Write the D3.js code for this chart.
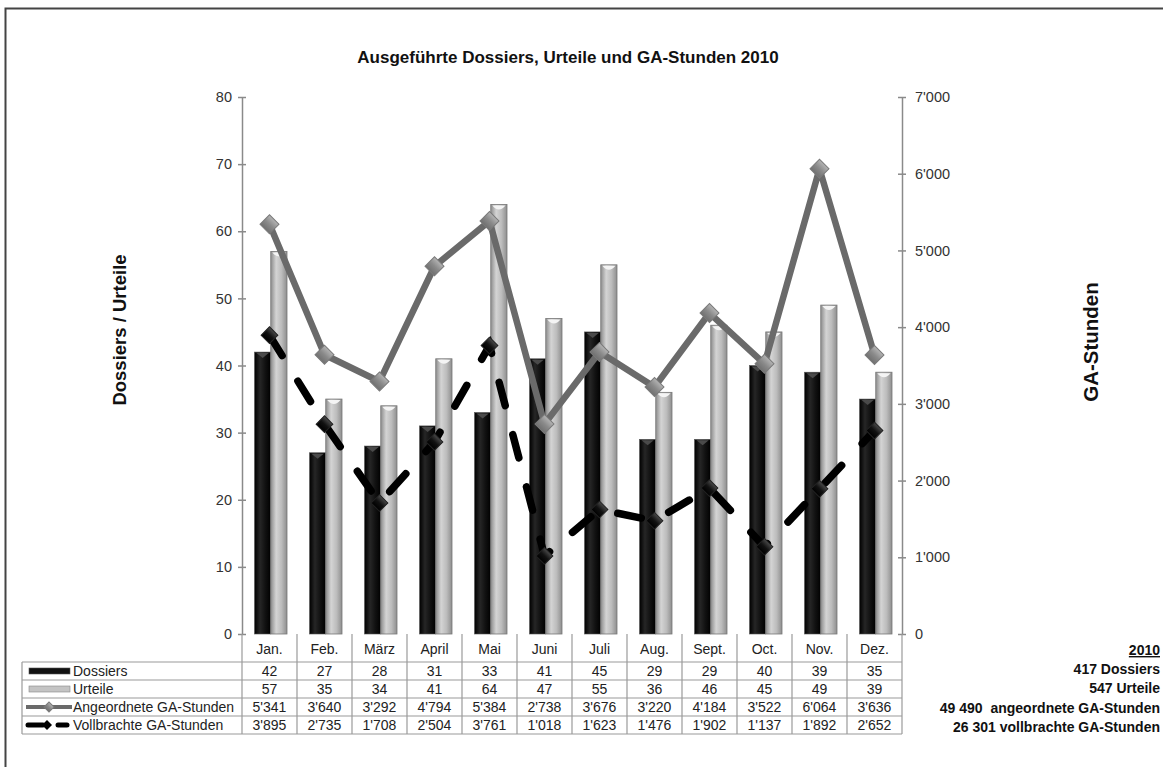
<!DOCTYPE html>
<html>
<head>
<meta charset="utf-8">
<script src="https://cdn.jsdelivr.net/npm/d3@7"></script>
<style>
  body { margin: 0; background: #fff; }
  svg { display: block; font-family: "Liberation Sans", Arial, sans-serif; }
</style>
</head>
<body>
<svg id="chart" width="1163" height="767"></svg>
<script>
const months = ['Jan.', 'Feb.', 'März', 'April', 'Mai', 'Juni', 'Juli', 'Aug.', 'Sept.', 'Oct.', 'Nov.', 'Dez.']
const dossiers = [42, 27, 28, 31, 33, 41, 45, 29, 29, 40, 39, 35]
const urteile = [57, 35, 34, 41, 64, 47, 55, 36, 46, 45, 49, 39]
const angeordnete = [5341, 3640, 3292, 4794, 5384, 2738, 3676, 3220, 4184, 3522, 6064, 3636]
const vollbrachte = [3895, 2735, 1708, 2504, 3761, 1018, 1623, 1476, 1902, 1137, 1892, 2652]
const leftTicks = [0, 10, 20, 30, 40, 50, 60, 70, 80]
const rightTicks = [0, 1000, 2000, 3000, 4000, 5000, 6000, 7000]
const summary = ['2010', '417 Dossiers', '547 Urteile', '49 490  angeordnete GA-Stunden', '26 301 vollbrachte GA-Stunden']

const svg = d3.select('#chart')
const plotLeft = 242, plotRight = 902, plotTop = 97, zero = 634
const tableLeft = 22, headerH = 28, rowH = 18

const fmt = d3.formatLocale({decimal: '.', thousands: "'", grouping: [3], currency: ['', '']}).format(',')

const x = d3.scaleBand().domain(months).range([plotLeft, plotRight])
const xs = d3.scaleBand().domain(['d', 'u']).range([12.5, 45])
const yL = d3.scaleLinear().domain([0, 80]).range([zero, plotTop])
const yR = d3.scaleLinear().domain([0, 7000]).range([zero, plotTop])

// frame round the whole picture
svg.append('rect').attr('x', 5.5).attr('y', 8.5).attr('width', 1200).attr('height', 800)
  .attr('fill', 'none').attr('stroke', '#444').attr('stroke-width', 2)

// gradients for the 3d look
const defs = svg.append('defs')
const grad = (id, stops, dir) => {
  let g = defs.append('linearGradient').attr('id', id)
  if(dir==='v') g.attr('x1', 0).attr('x2', 0).attr('y1', 0).attr('y2', 1)
  stops.forEach((c, i) => g.append('stop').attr('offset', i/(stops.length-1)).attr('stop-color', c))
}
grad('gDoss', ['#000', '#262626', '#111', '#000'])
grad('gUrt', ['#8c8c8c', '#d4d4d4', '#bcbcbc', '#8e8e8e'])
grad('gGray', ['#b4b4b4', '#8a8a8a', '#707070'], 'v')
grad('gBlack', ['#4a4a4a', '#111', '#000'], 'v')

svg.append('text').attr('x', 568).attr('y', 63).attr('text-anchor', 'middle')
  .attr('font-size', 17).attr('font-weight', 'bold').attr('fill', '#111')
  .text('Ausgeführte Dossiers, Urteile und GA-Stunden 2010')

// axes
const axisL = svg.append('g').attr('transform', `translate(${plotLeft},0)`)
  .call(d3.axisLeft(yL).tickValues(leftTicks).tickSizeInner(4).tickSizeOuter(0).tickPadding(6))
axisL.selectAll('.tick line').attr('x1', 4)
const axisR = svg.append('g').attr('transform', `translate(${plotRight},0)`)
  .call(d3.axisRight(yR).tickValues(rightTicks).tickFormat(fmt).tickSizeInner(4).tickSizeOuter(0).tickPadding(9))
axisR.selectAll('.tick line').attr('x1', -4)
svg.selectAll('.domain, .tick line').attr('stroke', '#8a8a8a').attr('stroke-width', 1.5)
svg.selectAll('.tick text').attr('font-size', 14.5).attr('fill', '#333')
  .attr('font-family', '"Liberation Sans", Arial, sans-serif')

svg.append('text').attr('transform', 'translate(126,330) rotate(-90)').attr('text-anchor', 'middle')
  .attr('font-size', 18.5).attr('font-weight', 'bold').attr('fill', '#111').text('Dossiers / Urteile')
svg.append('text').attr('transform', 'translate(1098,342) rotate(-90)').attr('text-anchor', 'middle')
  .attr('font-size', 20.5).attr('font-weight', 'bold').attr('fill', '#111').text('GA-Stunden')

// bars
const bars = svg.append('g')
months.forEach((m, i) => {
  let xd = x(m) + xs('d'), xu = x(m) + xs('u'), w = xs.bandwidth()
  bars.append('rect').attr('x', xd).attr('y', yL(dossiers[i])).attr('width', w)
    .attr('height', zero - yL(dossiers[i])).attr('fill', 'url(#gDoss)').attr('stroke', '#555').attr('stroke-width', 0.6)
  bars.append('path').attr('d', `M${xd+2},${yL(dossiers[i])+1} L${xd+w-2},${yL(dossiers[i])+1} L${xd+w/2},${yL(dossiers[i])+6} Z`)
    .attr('fill', '#4a4a4a')
  bars.append('rect').attr('x', xu).attr('y', yL(urteile[i])).attr('width', w)
    .attr('height', zero - yL(urteile[i])).attr('fill', 'url(#gUrt)').attr('stroke', '#777').attr('stroke-width', 0.8)
  bars.append('path').attr('d', `M${xu+1.5},${yL(urteile[i])+1} L${xu+w-1.5},${yL(urteile[i])+1} Q${xu+w/2},${yL(urteile[i])+9} ${xu+1.5},${yL(urteile[i])+1} Z`)
    .attr('fill', '#f4f4f4')
})

// lines
const cx = m => x(m) + x.bandwidth()/2
const line = d3.line().x((d, i) => cx(months[i])).y(d => yR(d))
svg.append('path').datum(angeordnete).attr('d', line).attr('fill', 'none')
  .attr('stroke', '#6a6a6a').attr('stroke-width', 6.5).attr('stroke-linejoin', 'round')
svg.append('path').datum(vollbrachte).attr('d', line).attr('fill', 'none')
  .attr('stroke', '#000').attr('stroke-width', 7.5).attr('stroke-linecap', 'round')
  .attr('stroke-dasharray', '24,30')

const diamond = s => d3.symbol(d3.symbolSquare, s)()
svg.append('g').selectAll('path').data(angeordnete).join('path')
  .attr('d', diamond(180))
  .attr('transform', (d, i) => `translate(${cx(months[i])},${yR(d)}) rotate(45)`)
  .attr('fill', 'url(#gGray)').attr('stroke', '#7a7a7a').attr('stroke-width', 1)
svg.append('g').selectAll('path').data(vollbrachte).join('path')
  .attr('d', diamond(140))
  .attr('transform', (d, i) => `translate(${cx(months[i])},${yR(d)}) rotate(45)`)
  .attr('fill', 'url(#gBlack)').attr('stroke', '#222').attr('stroke-width', 1)

// data table
const rows = [
  {name: 'Dossiers', values: dossiers},
  {name: 'Urteile', values: urteile},
  {name: 'Angeordnete GA-Stunden', values: angeordnete},
  {name: 'Vollbrachte GA-Stunden', values: vollbrachte}
]
const table = svg.append('g').attr('stroke', '#9a9a9a').attr('stroke-width', 1.2)
const rowTop = zero + headerH
const tableBottom = rowTop + rows.length*rowH
months.concat(['end']).forEach((m, i) => {
  let xx = i < months.length ? x(m) : plotRight
  table.append('line').attr('x1', xx).attr('x2', xx).attr('y1', zero).attr('y2', tableBottom)
})
table.append('line').attr('x1', tableLeft).attr('x2', tableLeft).attr('y1', rowTop).attr('y2', tableBottom)
d3.range(rows.length + 1).forEach(r => {
  table.append('line').attr('x1', tableLeft).attr('x2', plotRight)
    .attr('y1', rowTop + r*rowH).attr('y2', rowTop + r*rowH)
})

svg.append('g').selectAll('text').data(months).join('text')
  .attr('x', d => cx(d)).attr('y', zero + 20).attr('text-anchor', 'middle')
  .attr('font-size', 14).attr('fill', '#222').text(d => d)

rows.forEach((row, r) => {
  let yy = rowTop + r*rowH + 14
  svg.append('g').selectAll('text').data(row.values).join('text')
    .attr('x', (d, i) => cx(months[i])).attr('y', yy).attr('text-anchor', 'middle')
    .attr('font-size', 14).attr('fill', '#222').text(d => fmt(d))
  svg.append('text').attr('x', 73).attr('y', yy).attr('font-size', 14).attr('fill', '#222').text(row.name)
})

// legend keys in the table
const ky = r => rowTop + r*rowH + rowH/2
svg.append('rect').attr('x', 29).attr('y', ky(0) - 3).attr('width', 41).attr('height', 6)
  .attr('fill', '#111').attr('stroke', '#555').attr('stroke-width', 0.6)
svg.append('rect').attr('x', 29).attr('y', ky(1) - 3).attr('width', 41).attr('height', 6)
  .attr('fill', '#c4c4c4').attr('stroke', '#888').attr('stroke-width', 0.6)
svg.append('line').attr('x1', 26).attr('x2', 72).attr('y1', ky(2)).attr('y2', ky(2))
  .attr('stroke', '#6a6a6a').attr('stroke-width', 4)
svg.append('path').attr('d', diamond(50)).attr('transform', `translate(49,${ky(2)}) rotate(45)`)
  .attr('fill', 'url(#gGray)').attr('stroke', '#7a7a7a')
svg.append('line').attr('x1', 28).attr('x2', 43).attr('y1', ky(3)).attr('y2', ky(3))
  .attr('stroke', '#000').attr('stroke-width', 5).attr('stroke-linecap', 'round')
svg.append('line').attr('x1', 58).attr('x2', 67).attr('y1', ky(3)).attr('y2', ky(3))
  .attr('stroke', '#000').attr('stroke-width', 5).attr('stroke-linecap', 'round')
svg.append('path').attr('d', diamond(50)).attr('transform', `translate(47,${ky(3)}) rotate(45)`)
  .attr('fill', '#000')

// yearly summary at the right
const sumY = [655, 674, 693, 713, 732]
summary.forEach((s, i) => {
  let t = svg.append('text').attr('x', 1160).attr('y', sumY[i]).attr('text-anchor', 'end')
    .attr('font-size', 14).attr('font-weight', 'bold').attr('fill', '#111').attr('xml:space', 'preserve').text(s)
  if(i===0) t.attr('text-decoration', 'underline')
})
</script>
</body>
</html>
